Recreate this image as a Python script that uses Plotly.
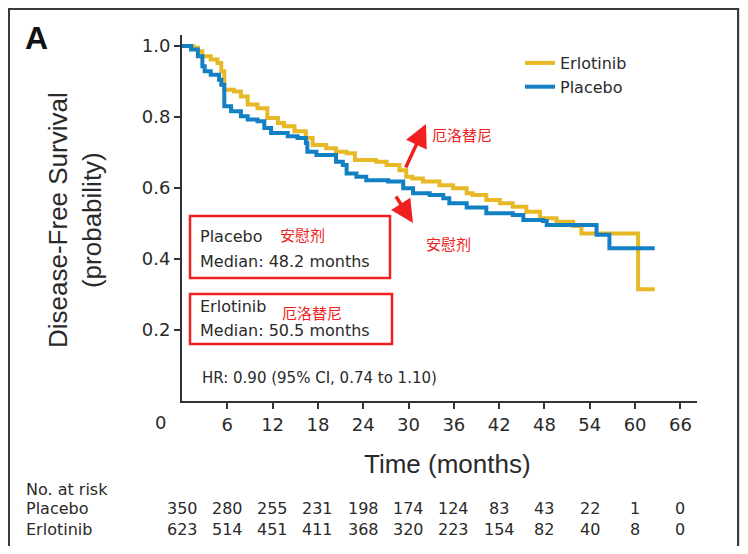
import plotly.graph_objects as go

# ---------------- data ----------------
placebo_t = [0, 1.2, 2.1, 2.7, 3.0, 3.8, 4.9, 5.2, 5.6, 6.5, 7.8, 8.7, 10.0, 10.9, 11.8,
             14.0, 15.3, 16.4, 16.6, 17.8, 20.4, 21.3, 21.8, 23.1, 24.4, 27.3, 29.3, 30.6,
             32.8, 34.6, 35.4, 37.7, 40.3, 43.8, 45.2, 47.8, 48.3, 54.9, 56.6, 62.6]
placebo_s = [1.0, 0.99, 0.971, 0.943, 0.929, 0.919, 0.905, 0.891, 0.830, 0.816, 0.802, 0.793,
             0.788, 0.769, 0.755, 0.746, 0.741, 0.727, 0.702, 0.693, 0.674, 0.665, 0.641, 0.632,
             0.622, 0.618, 0.599, 0.585, 0.580, 0.571, 0.557, 0.545, 0.529, 0.524, 0.510, 0.507,
             0.496, 0.468, 0.430, 0.430]

erlotinib_t = [0, 1.5, 2.1, 2.7, 3.8, 4.7, 5.2, 5.6, 6.9, 7.8, 8.7, 10.0, 11.3, 12.7, 13.5,
               14.9, 16.4, 17.3, 19.1, 20.4, 21.8, 22.9, 25.7, 27.1, 28.8, 29.7, 30.5, 31.9,
               34.1, 35.9, 37.7, 38.5, 40.3, 42.1, 43.8, 45.6, 47.4, 49.6, 51.8, 52.9, 60.4, 62.6]
erlotinib_s = [1.0, 0.995, 0.985, 0.971, 0.962, 0.952, 0.929, 0.877, 0.872, 0.858, 0.835, 0.825,
               0.797, 0.783, 0.774, 0.760, 0.741, 0.721, 0.712, 0.702, 0.698, 0.679, 0.674, 0.665,
               0.650, 0.632, 0.627, 0.618, 0.608, 0.599, 0.585, 0.580, 0.566, 0.557, 0.547, 0.533,
               0.515, 0.505, 0.493, 0.472, 0.315, 0.315]

x_ticks = [6, 12, 18, 24, 30, 36, 42, 48, 54, 60, 66]
y_ticks = [0.2, 0.4, 0.6, 0.8, 1.0]
y_tick_labels = ["0.2", "0.4", "0.6", "0.8", "1.0"]

risk_times = [0, 6, 12, 18, 24, 30, 36, 42, 48, 54, 60, 66]
risk_placebo = [350, 280, 255, 231, 198, 174, 124, 83, 43, 22, 1, 0]
risk_erlotinib = [623, 514, 451, 411, 368, 320, 223, 154, 82, 40, 8, 0]

YELLOW = "#E7B926"
BLUE = "#1280C3"
RED = "#F02020"
TXT = "#2a2a2a"
BODY = "DejaVu Sans, Liberation Sans, Arial, sans-serif"
TITLE = "Liberation Sans, Arial, sans-serif"
CJK = "Noto Sans CJK SC, sans-serif"

# page has an 8px body margin: figure pixel = screen pixel - OFF
OFF = 8
FIG_W, FIG_H = 748 - 2 * OFF, 554 - 2 * OFF
# plot area in screen pixels
SL, SR, ST, SB = 182, 697, 35, 401
L, R, T, B = SL - OFF, SR - OFF, ST - OFF, SB - OFF
W, H = R - L, B - T


def px(x):  # screen x -> paper
    return (x - OFF - L) / W


def py(y):  # screen y -> paper
    return (B - (y - OFF)) / H


fig = go.Figure()
fig.add_trace(go.Scatter(x=erlotinib_t, y=erlotinib_s, mode="lines", name="Erlotinib",
                         line=dict(color=YELLOW, width=4, shape="hv")))
fig.add_trace(go.Scatter(x=placebo_t, y=placebo_s, mode="lines", name="Placebo",
                         line=dict(color=BLUE, width=4, shape="hv")))

ann = []


def text(x, y, s, size=16, color=TXT, family=BODY, xanchor="left", **kw):
    ann.append(dict(x=px(x), y=py(y), xref="paper", yref="paper", text=s, showarrow=False,
                    xanchor=xanchor, yanchor="middle", font=dict(size=size, color=color, family=family), **kw))


# panel letter
text(23, 38, "<b>A</b>", size=32, color="#111", family=TITLE)
# origin label
text(160, 422, "0", size=18, xanchor="center")
# y title
ann.append(dict(x=px(75), y=py(220), xref="paper", yref="paper",
                text="Disease-Free Survival<br>(probability)", showarrow=False, textangle=-90,
                xanchor="center", yanchor="middle", align="center",
                font=dict(size=26, color=TXT, family=TITLE)))
# x title
text(447, 464, "Time (months)", size=26, family=TITLE, xanchor="center")

# boxes text
text(198, 237, "Placebo")
text(278, 235, "安慰剂", size=15, color=RED, family=CJK)
text(198, 261, "Median: 48.2 months")
text(198, 306, "Erlotinib")
text(280, 312, "厄洛替尼", size=15, color=RED, family=CJK)
text(198, 330, "Median: 50.5 months")
text(200, 378, "HR: 0.90 (95% CI, 0.74 to 1.10)", size=15)

# red arrows and labels
ann.append(dict(x=px(426), y=py(124), xref="paper", yref="paper", ax=-21, ay=45, text="",
                showarrow=True, arrowhead=2, arrowsize=1.3, arrowwidth=3.5, arrowcolor=RED))
ann.append(dict(x=px(413), y=py(223), xref="paper", yref="paper", ax=-18, ay=-28, text="",
                showarrow=True, arrowhead=2, arrowsize=1.3, arrowwidth=3.5, arrowcolor=RED))
text(430, 135, "厄洛替尼", size=15, color=RED, family=CJK)
text(424, 243, "安慰剂", size=15, color=RED, family=CJK)

# number at risk
text(24, 489, "No. at risk")
text(24, 509, "Placebo")
text(24, 529, "Erlotinib")
for t, n in zip(risk_times, risk_placebo):
    ann.append(dict(x=t, y=py(509), xref="x", yref="paper", text=str(n), showarrow=False,
                    xanchor="center", yanchor="middle", font=dict(size=16, color=TXT, family=BODY)))
for t, n in zip(risk_times, risk_erlotinib):
    ann.append(dict(x=t, y=py(529), xref="x", yref="paper", text=str(n), showarrow=False,
                    xanchor="center", yanchor="middle", font=dict(size=16, color=TXT, family=BODY)))

shapes = [
    # white panel with dark frame (screenshot look)
    dict(type="rect", xref="paper", yref="paper", x0=px(9), x1=px(738), y0=py(9), y1=py(570),
         fillcolor="white", line=dict(color="#3a3a3a", width=2), layer="below"),
    # red boxes
    dict(type="rect", xref="paper", yref="paper", x0=px(190), x1=px(390), y0=py(216), y1=py(278),
         line=dict(color=RED, width=2.5), fillcolor="rgba(0,0,0,0)"),
    dict(type="rect", xref="paper", yref="paper", x0=px(190), x1=px(392), y0=py(294), y1=py(344),
         line=dict(color=RED, width=2.5), fillcolor="rgba(0,0,0,0)"),
]

fig.update_layout(
    width=FIG_W, height=FIG_H,
    margin=dict(l=L, r=FIG_W - R, t=T, b=FIG_H - B, pad=0),
    paper_bgcolor="#dcdcdc", plot_bgcolor="rgba(0,0,0,0)",
    showlegend=True,
    legend=dict(x=px(520), y=py(46), xanchor="left", yanchor="top", bgcolor="rgba(0,0,0,0)",
                font=dict(size=16, color=TXT, family=BODY), itemwidth=30, tracegroupgap=0),
    annotations=ann, shapes=shapes,
    xaxis=dict(range=[0, 68.2], tickvals=x_ticks, ticks="outside", ticklen=6, tickwidth=2,
               tickcolor="#333", showline=True, linecolor="#333", linewidth=2, showgrid=False,
               zeroline=False, tickfont=dict(size=18, color=TXT, family=BODY)),
    yaxis=dict(range=[0, 1.031], tickvals=y_ticks, ticktext=y_tick_labels, ticks="outside",
               ticklen=6, tickwidth=2, tickcolor="#333", showline=True, linecolor="#333",
               linewidth=2, showgrid=False, zeroline=False,
               tickfont=dict(size=18, color=TXT, family=BODY)),
)

fig.write_html("out.html")
